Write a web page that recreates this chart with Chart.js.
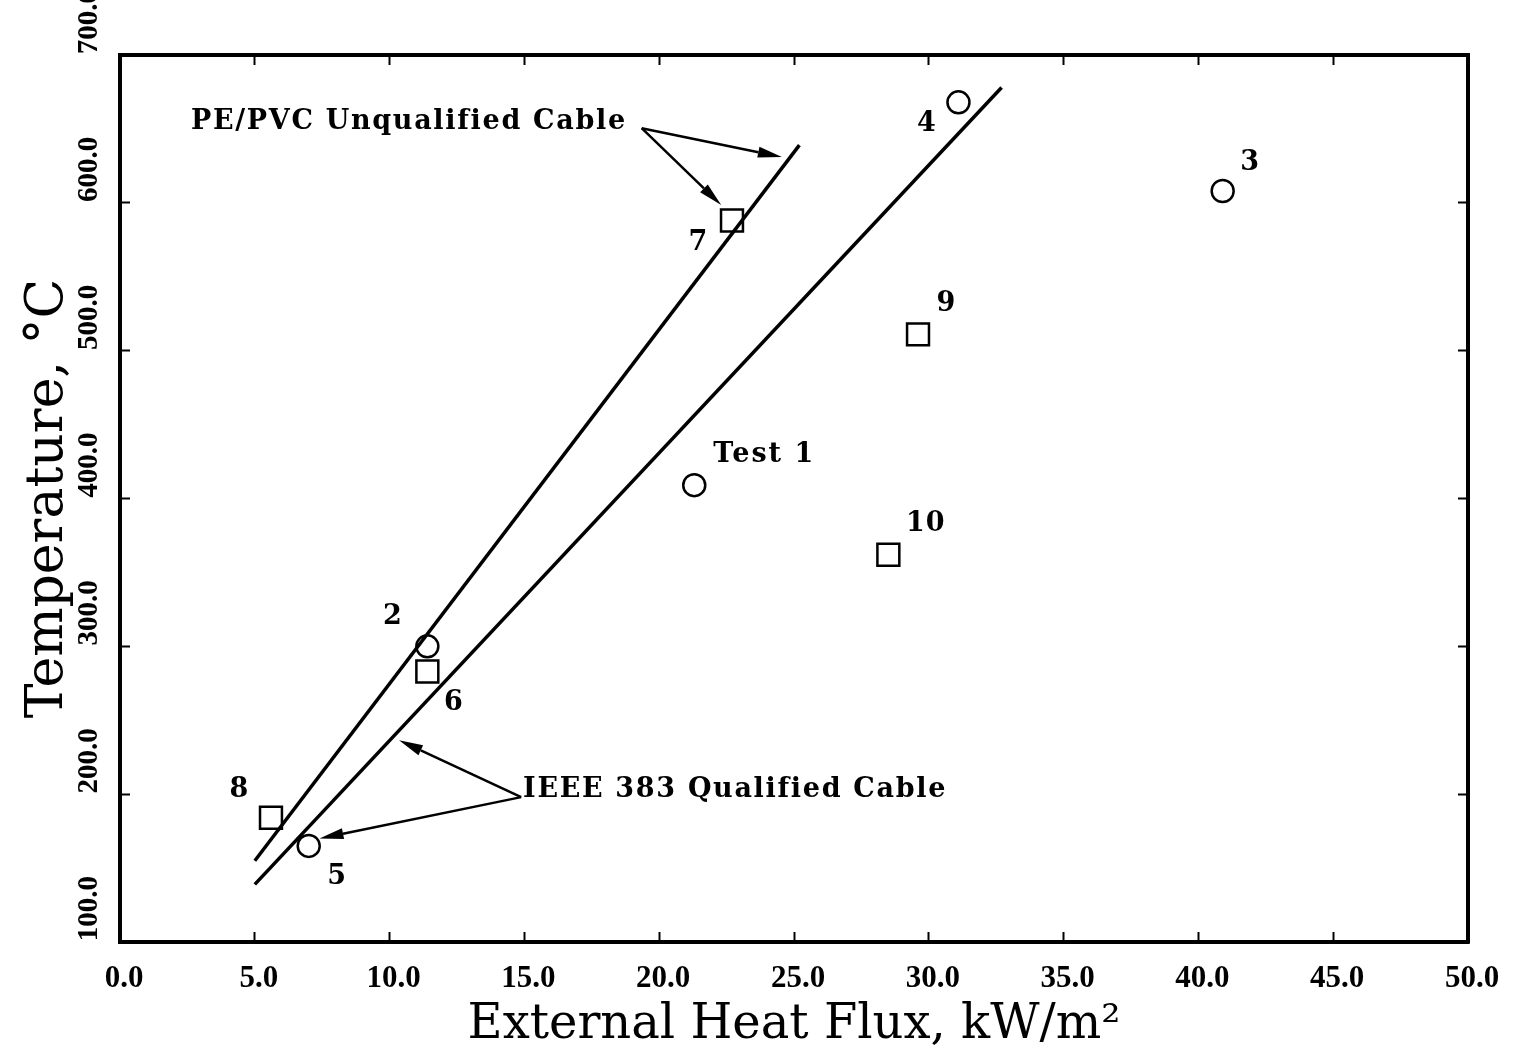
<!DOCTYPE html>
<html>
<head>
<meta charset="utf-8">
<script src="https://cdn.jsdelivr.net/npm/chart.js@4.4.1/dist/chart.umd.min.js"></script>
<style>
html,body{margin:0;padding:0;background:#fff;}
#wrap{width:1513px;height:1054px;position:relative;}
</style>
</head>
<body>
<div id="wrap"><canvas id="c" width="1513" height="1054"></canvas></div>
<script>
// ---------- data ----------
const xTickValues = [0, 5, 10, 15, 20, 25, 30, 35, 40, 45, 50];
const yTickValues = [100, 200, 300, 400, 500, 600, 700];

const circleLabels = ['Test 1', '2', '3', '4', '5'];
const circleX = [21.3, 11.4, 40.9, 31.1, 7.0];
const circleY = [409, 300, 608, 668, 165];

const squareLabels = ['6', '7', '8', '9', '10'];
const squareX = [11.4, 22.7, 5.6, 29.6, 28.5];
const squareY = [283, 588, 184, 511, 362];

const pePvcLineX = [5.0, 25.2];
const pePvcLineY = [155, 639];
const ieeeLineX = [5.0, 32.7];
const ieeeLineY = [139, 678];

const annotationTexts = ['PE/PVC Unqualified Cable', 'IEEE 383 Qualified Cable'];
const xTitle = 'External Heat Flux, kW/m\u00B2';
const yTitle = 'Temperature, \u00B0C';

// ---------- layout / style (not data) ----------
const circleLabelOffsets = [[69, -30], [-35, -29], [27, -28], [-32, 22], [28, 31]];
const squareLabelOffsets = [[26, 32], [-34, 22], [-32, -28], [28, -30], [37, -31]];
// annotation anchors given in axis units
const annotationLayout = [
  { text: [2.63, 655], origin: [19.35, 650.5], tips: [[24.55, 631], [22.3, 598.5]] },
  { text: [14.95, 203], origin: [14.88, 198], tips: [[10.35, 236.5], [7.4, 170]] }
];

const toXY = (xs, ys) => xs.map((x, i) => ({ x: x, y: ys[i] }));

const labelPlugin = {
  id: 'labels',
  afterDatasetsDraw(chart) {
    const ctx = chart.ctx;
    const xs = chart.scales.x, ys = chart.scales.y;
    ctx.save();
    ctx.fillStyle = '#000';
    ctx.font = 'bold 27px "DejaVu Serif"';
    ctx.textBaseline = 'middle';
    const drawCentered = (txt, x, y, ls) => {
      ctx.letterSpacing = ls + 'px';
      const w = ctx.measureText(txt).width - ls;
      ctx.textAlign = 'left';
      ctx.fillText(txt, x - w / 2, y);
    };
    const m0 = chart.getDatasetMeta(2), m1 = chart.getDatasetMeta(3);
    m0.data.forEach((pt, i) => {
      drawCentered(circleLabels[i], pt.x + circleLabelOffsets[i][0], pt.y + circleLabelOffsets[i][1], 2);
    });
    m1.data.forEach((pt, i) => {
      drawCentered(squareLabels[i], pt.x + squareLabelOffsets[i][0], pt.y + squareLabelOffsets[i][1], 1);
    });
    // annotations
    ctx.textAlign = 'left';
    ctx.letterSpacing = '1.7px';
    annotationLayout.forEach((a, k) => {
      ctx.fillText(annotationTexts[k], xs.getPixelForValue(a.text[0]), ys.getPixelForValue(a.text[1]));
      const ox = xs.getPixelForValue(a.origin[0]), oy = ys.getPixelForValue(a.origin[1]);
      a.tips.forEach(t => {
        const tx = xs.getPixelForValue(t[0]), ty = ys.getPixelForValue(t[1]);
        const ang = Math.atan2(ty - oy, tx - ox);
        const hl = 24, hw = 5.5;
        const bx = tx - hl * Math.cos(ang), by = ty - hl * Math.sin(ang);
        ctx.strokeStyle = '#000';
        ctx.lineWidth = 2.5;
        ctx.beginPath();
        ctx.moveTo(ox, oy);
        ctx.lineTo(bx, by);
        ctx.stroke();
        ctx.beginPath();
        ctx.moveTo(tx, ty);
        ctx.lineTo(bx + hw * Math.sin(ang), by - hw * Math.cos(ang));
        ctx.lineTo(bx - hw * Math.sin(ang), by + hw * Math.cos(ang));
        ctx.closePath();
        ctx.fillStyle = '#000';
        ctx.fill();
      });
    });
    ctx.restore();
  }
};

const xTickFont = { family: '"Liberation Serif"', size: 31, weight: 'bold' };
const yTickFont = { family: '"Liberation Serif"', size: 29, weight: 'bold' };
const gridCommon = { drawOnChartArea: false, drawTicks: true, tickLength: -10, tickWidth: 2, color: '#000' };
const borderCommon = { display: true, width: 4, color: '#000' };
const zeroPad = s => { s.paddingLeft = 0; s.paddingRight = 0; s.paddingTop = 0; s.paddingBottom = 0; };

new Chart(document.getElementById('c'), {
  type: 'scatter',
  data: {
    datasets: [
      { type: 'line', data: toXY(pePvcLineX, pePvcLineY), borderColor: '#000', borderWidth: 3.5, pointRadius: 0, fill: false, tension: 0 },
      { type: 'line', data: toXY(ieeeLineX, ieeeLineY), borderColor: '#000', borderWidth: 3.5, pointRadius: 0, fill: false, tension: 0 },
      { data: toXY(circleX, circleY), pointStyle: 'circle', pointRadius: 11, borderColor: '#000', borderWidth: 2.5, backgroundColor: '#fff' },
      { data: toXY(squareX, squareY), pointStyle: 'rect', pointRadius: 15.5, borderColor: '#000', borderWidth: 2.5, backgroundColor: '#fff' }
    ]
  },
  options: {
    responsive: false,
    animation: false,
    devicePixelRatio: 1,
    layout: { padding: 0 },
    plugins: { legend: { display: false }, tooltip: { enabled: false } },
    scales: {
      x: {
        type: 'linear', position: 'bottom', min: 0, max: 50,
        afterBuildTicks: s => { s.ticks = xTickValues.map(v => ({ value: v })); },
        ticks: { font: xTickFont, color: '#000', padding: 28, labelOffset: 4, maxRotation: 0, minRotation: 0, callback: v => v.toFixed(1) },
        grid: gridCommon, border: borderCommon,
        title: { display: true, text: xTitle, color: '#000', font: { family: '"DejaVu Serif"', size: 48 }, padding: { top: 0, bottom: 0 } },
        afterFit: s => { s.height = 112; zeroPad(s); }
      },
      x2: {
        type: 'linear', position: 'top', min: 0, max: 50,
        afterBuildTicks: s => { s.ticks = xTickValues.map(v => ({ value: v })); },
        ticks: { display: false },
        grid: gridCommon, border: borderCommon,
        afterFit: s => { s.height = 55; zeroPad(s); }
      },
      y: {
        type: 'linear', position: 'left', min: 100, max: 700,
        afterBuildTicks: s => { s.ticks = yTickValues.map(v => ({ value: v })); },
        ticks: { font: yTickFont, color: '#000', padding: 40, minRotation: 90, maxRotation: 90, labelOffset: -66, callback: v => v.toFixed(1) },
        grid: gridCommon, border: borderCommon,
        title: { display: true, text: yTitle, color: '#000', font: { family: '"DejaVu Serif"', size: 52 }, padding: { top: 17, bottom: 0 } },
        afterFit: s => { s.width = 120; zeroPad(s); }
      },
      y2: {
        type: 'linear', position: 'right', min: 100, max: 700,
        afterBuildTicks: s => { s.ticks = yTickValues.map(v => ({ value: v })); },
        ticks: { display: false },
        grid: gridCommon, border: borderCommon,
        afterFit: s => { s.width = 45; zeroPad(s); }
      }
    }
  },
  plugins: [labelPlugin]
});
</script>
</body>
</html>
